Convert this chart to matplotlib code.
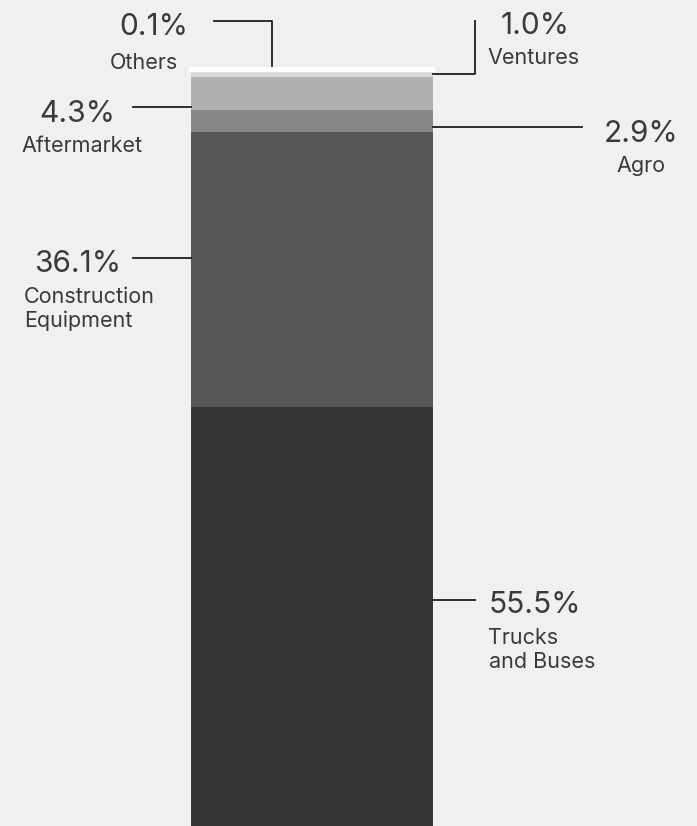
import matplotlib.pyplot as plt
from matplotlib.transforms import Affine2D

# revenue split by business area, stacked from the bottom up
segments = ["Trucks\nand Buses", "Construction\nEquipment", "Agro",
            "Aftermarket", "Ventures", "Others"]
shares = [55.5, 36.1, 2.9, 4.3, 1.0, 0.1]
share_labels = ["55.5%", "36.1%", "2.9%", "4.3%", "1.0%", "0.1%"]
colors = ["#363636", "#575755", "#878787", "#b0b0b0", "#d9d9d9", "#ffffff"]

W, H = 697, 826
BG = "#f0f0f0"
TXT = "#3a3a3a"

# label layout in pixels from the top-left corner:
# (percent centre x, percent baseline, name line centres x, name baseline, leader line)
layout = [
    (535, 613, [523, 542], 644, [(433, 600), (475, 600)]),
    (78, 272, [89, 78], 303, [(133, 258), (191, 258)]),
    (641, 142, [641], 172, [(433, 127), (582, 127)]),
    (77, 122, [82], 152, [(133, 107), (191, 107)]),
    (535, 34, [534], 64, [(433, 74), (475, 74), (475, 21)]),
    (154, 35, [144], 69, [(214, 21), (272, 21), (272, 66)]),
]

plt.rcParams["font.family"] = ["Inter", "DejaVu Sans"]

fig = plt.figure(figsize=(W / 100, H / 100), dpi=100, facecolor=BG)
ax = fig.add_axes([0, 0, 1, 1])
ax.set_facecolor(BG)
ax.set_xlim(0, W)
ax.set_ylim(0.5, 0.5 + H / 7.618)
ax.axis("off")

bottom = 0
for v, c in zip(shares, colors):
    lw = 3 if c == "#ffffff" else 0
    ax.bar(312, v, width=242, bottom=bottom, color=c, edgecolor=c,
           linewidth=lw, align="center")
    bottom += v

# pixel coordinates, origin top-left
px = Affine2D().scale(1 / W, -1 / H).translate(0, 1) + fig.transFigure

for name, pct, (pcx, pby, ncx, nby, leader) in zip(segments, share_labels, layout):
    fig.text(pcx, pby, pct, transform=px, ha="center", va="baseline",
             fontsize=21.5, color=TXT)
    for i, line in enumerate(name.split("\n")):
        fig.text(ncx[i], nby + 24 * i, line, transform=px, ha="center",
                 va="baseline", fontsize=15.5, color=TXT)
    xs = [p[0] for p in leader]
    ys = [p[1] for p in leader]
    fig.add_artist(plt.Line2D(xs, ys, transform=px, color="#1e1e1e", lw=1.3))

fig.savefig("out.png", dpi=100, facecolor=BG)
